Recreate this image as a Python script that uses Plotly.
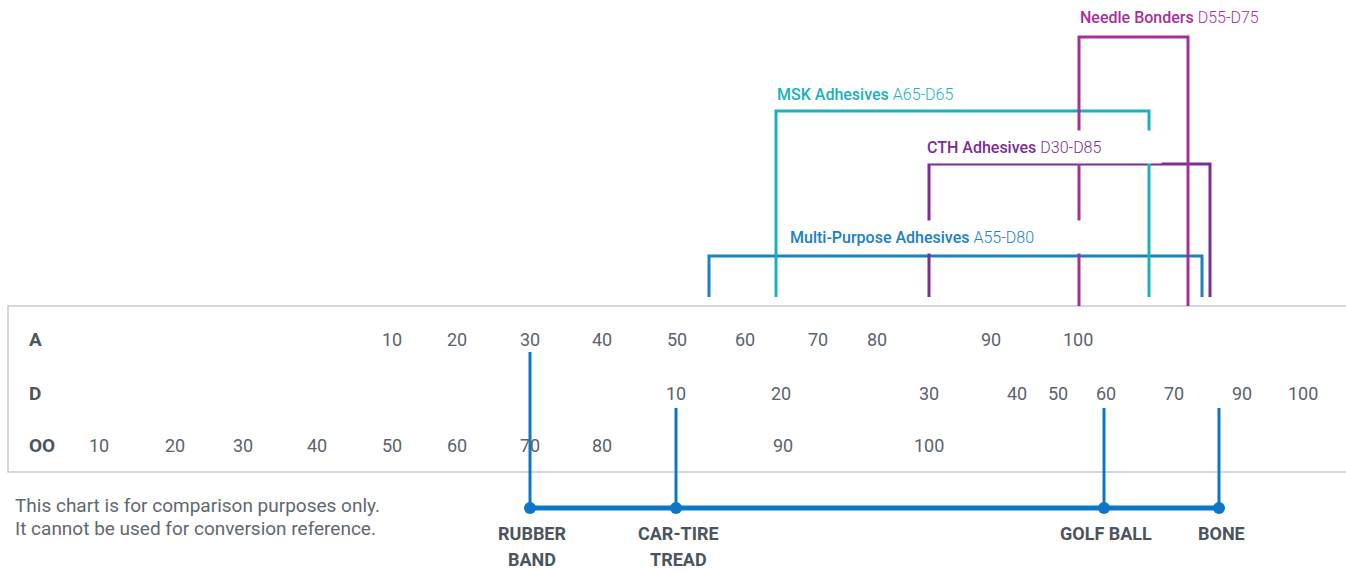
import plotly.graph_objects as go

# ---------------- data ----------------
# positions on the shared comparison axis (0..1346) for each scale's tick values
A_values = [10, 20, 30, 40, 50, 60, 70, 80, 90, 100]
A_pos = [392, 457, 530, 602, 677, 745, 818, 877, 991, 1078]
D_values = [10, 20, 30, 40, 50, 60, 70, 90, 100]
D_pos = [676, 781, 929, 1017, 1058, 1106, 1174, 1242, 1303]
OO_values = [10, 20, 30, 40, 50, 60, 70, 80, 90, 100]
OO_pos = [99, 175, 243, 317, 392, 457, 530, 602, 783, 929]
scale_names = ["A", "D", "OO"]

examples = [["RUBBER", "BAND"], ["CAR-TIRE", "TREAD"], ["GOLF BALL"], ["BONE"]]
example_scale = ["A", "D", "D", "D"]
example_pos = [530, 676, 1104, 1219]

products = ["Multi-Purpose Adhesives", "CTH Adhesives", "MSK Adhesives", "Needle Bonders"]
product_ranges = ["A55-D80", "D30-D85", "A65-D65", "D55-D75"]
product_start = [709, 929, 776, 1079]
product_end = [1202, 1210, 1149, 1188]

note_lines = ["This chart is for comparison purposes only.",
              "It cannot be used for conversion reference."]

# ---------------- layout / style ----------------
W, H = 1346, 571
FONT = "Roboto, Noto Sans, Liberation Sans, sans-serif"
GRAY = "#5a636b"
DARK = "#4b555e"
EX_BLUE = "#0a77c9"
prod_colors = ["#1b80c4", "#7b2d93", "#19b1bd", "#a5309a"]
prod_top = [256, 164, 111, 37]
prod_bottom = [297, 297, 297, 306]
label_x = [789, 926, 775, 1078]
label_y = [237, 147, 94, 17]
label_bg = [True, True, False, False]
label_w = [312, 234, 0, 0]
row_y = {"A": 339, "D": 393, "OO": 445}
line_start = {"A": 352, "D": 408}
base_y = 508
ex_label_y = [533, 559]
note_y = [505, 528]
box = dict(x0=8, x1=1360, y0=306, y1=472)

fig = go.Figure()

# product brackets
for i, p in enumerate(products):
    x0, x1 = product_start[i], product_end[i]
    fig.add_trace(go.Scatter(
        x=[x0, x0, x1, x1], y=[prod_bottom[i], prod_top[i], prod_top[i], prod_bottom[i]],
        mode="lines", line=dict(color=prod_colors[i], width=3),
        hoverinfo="skip", showlegend=False))

# example lines
for i, e in enumerate(examples):
    fig.add_trace(go.Scatter(
        x=[example_pos[i], example_pos[i]], y=[line_start[example_scale[i]], base_y],
        mode="lines", line=dict(color=EX_BLUE, width=3),
        hoverinfo="skip", showlegend=False))
fig.add_trace(go.Scatter(
    x=example_pos, y=[base_y] * len(example_pos), mode="lines+markers",
    line=dict(color=EX_BLUE, width=5), marker=dict(color=EX_BLUE, size=12),
    hoverinfo="skip", showlegend=False))

annotations = []
# scale rows
for name, vals, pos in [("A", A_values, A_pos), ("D", D_values, D_pos), ("OO", OO_values, OO_pos)]:
    annotations.append(dict(x=27, y=row_y[name], text="<b>%s</b>" % name, showarrow=False,
                            xanchor="left", yanchor="middle",
                            font=dict(family=FONT, size=19, color=DARK)))
    for v, p in zip(vals, pos):
        annotations.append(dict(x=p, y=row_y[name], text=str(v), showarrow=False,
                                xanchor="center", yanchor="middle",
                                font=dict(family=FONT, size=18, color=GRAY)))

# example labels
for i, e in enumerate(examples):
    for j, line in enumerate(e):
        annotations.append(dict(x=example_pos[i] + 2, y=ex_label_y[j], text="<b>%s</b>" % line,
                                showarrow=False, xanchor="center", yanchor="middle",
                                font=dict(family=FONT, size=18, color=DARK)))

# product labels
for i, p in enumerate(products):
    a = dict(x=label_x[i], y=label_y[i],
             text="<span style='font-weight:500'>%s</span> <span style='font-weight:300'>%s</span>"
                  % (p, product_ranges[i]),
             showarrow=False, xanchor="left", yanchor="middle", align="left",
             font=dict(family=FONT, size=16, color=prod_colors[i]))
    if label_bg[i]:
        a.update(bgcolor="white", width=label_w[i], height=32, borderpad=0)
    annotations.append(a)

# footnote
for j, line in enumerate(note_lines):
    annotations.append(dict(x=13, y=note_y[j], text=line, showarrow=False,
                            xanchor="left", yanchor="middle", align="left",
                            font=dict(family=FONT, size=19, color="#5f6870")))

fig.update_layout(
    width=W, height=H, margin=dict(l=0, r=0, t=0, b=0),
    paper_bgcolor="white", plot_bgcolor="white",
    xaxis=dict(range=[0, W], visible=False, fixedrange=True),
    yaxis=dict(range=[H, 0], visible=False, fixedrange=True),
    shapes=[dict(type="rect", xref="x", yref="y", layer="below",
                 line=dict(color="#c6cbd0", width=1.5), **box)],
    annotations=annotations,
)

fig.write_html("out.html", config={"displayModeBar": False},
               post_script="document.body.style.margin='0';")
